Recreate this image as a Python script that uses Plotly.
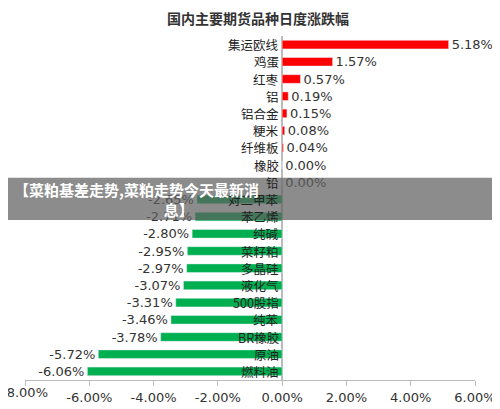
import plotly.graph_objects as go

cats = ["集运欧线","鸡蛋","红枣","铝","铝合金","粳米","纤维板","橡胶","铅","对二甲苯",
        "苯乙烯","纯碱","菜籽粕","多晶硅","液化气","500股指","纯苯","BR橡胶","原油","燃料油"]
vals = [5.18,1.57,0.57,0.19,0.15,0.08,0.04,0.00,0.00,-2.65,
        -2.71,-2.80,-2.95,-2.97,-3.07,-3.31,-3.46,-3.78,-5.72,-6.06]
tickvals = [-8,-6,-4,-2,0,2,4,6]

colors = ["#ff0000" if v > 0 else "#00b050" for v in vals]
fig = go.Figure(go.Bar(
    y=list(range(len(cats))), x=vals, orientation="h", marker_color=colors, width=0.5,
    text=[f"{v:.2f}%" for v in vals], textposition="outside", cliponaxis=False,
    constraintext="none",
    outsidetextfont=dict(size=13, color="#333", family="DejaVu Sans"),
))
for i, (c, v) in enumerate(zip(cats, vals)):
    fig.add_annotation(x=0, y=i, text=c, xanchor="right", showarrow=False, xshift=-1,
                       font=dict(size=12.5, color="#222"))
fig.add_annotation(x=tickvals[0], y=0, yref="paper", yanchor="top", yshift=-3, showarrow=False,
                   text=f"{tickvals[0]:.2f}%", font=dict(size=13, color="#333", family="DejaVu Sans"))
fig.add_shape(type="rect", xref="paper", yref="paper", x0=-0.1, x1=1.1, y0=0.465, y1=0.588,
              fillcolor="rgba(95,95,95,0.72)", line_width=0, layer="above")
fig.add_annotation(xref="paper", yref="paper", x=-0.03, y=0.526, xanchor="left", align="left",
                   showarrow=False,
                   text="<b>【菜粕基差走势,菜粕走势今天最新消</b><br><b>                                            息】</b>",
                   font=dict(size=15, color="white", family="Noto Sans CJK SC"))
fig.update_layout(
    width=500, height=409, plot_bgcolor="white", paper_bgcolor="white",
    margin=dict(l=17, r=26, t=28, b=31), showlegend=False,
    font=dict(family="Noto Sans CJK SC"),
    title=dict(text="<b>国内主要期货品种日度涨跌幅</b>", x=0.5, y=0.985, yanchor="top",
               font=dict(size=14, color="#333")),
    xaxis=dict(range=[-8,6], tickvals=tickvals, ticktext=[""] + [f"{t:.2f}%" for t in tickvals[1:]],
               showgrid=False, zeroline=True, zerolinecolor="#bbb", ticks="outside",
               tickcolor="#bbb", showline=True, linecolor="#bbb",
               tickfont=dict(size=13, color="#333", family="DejaVu Sans")),
    yaxis=dict(range=[19.5, -0.5], showticklabels=False, showgrid=False),
)
fig.write_html("out.html")
